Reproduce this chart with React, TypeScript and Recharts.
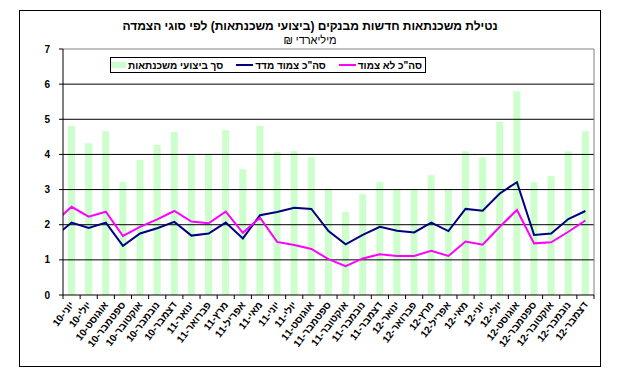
import React from "react";
import { ComposedChart, Bar, Line, XAxis, YAxis, ReferenceLine } from "recharts";

// first month (May-10) only feeds the lines' stub at the left edge
const months = [
  "מאי-10", "יוני-10", "יולי-10", "אוגוסט-10", "ספטמבר-10", "אוקטובר-10", "נובמבר-10", "דצמבר-10",
  "ינואר-11", "פברואר-11", "מרץ-11", "אפריל-11", "מאי-11", "יוני-11", "יולי-11", "אוגוסט-11",
  "ספטמבר-11", "אוקטובר-11", "נובמבר-11", "דצמבר-11",
  "ינואר-12", "פברואר-12", "מרץ-12", "אפריל-12", "מאי-12", "יוני-12", "יולי-12", "אוגוסט-12",
  "ספטמבר-12", "אוקטובר-12", "נובמבר-12", "דצמבר-12",
];

const totalVolume = [
  null, 4.81, 4.32, 4.66, 3.21, 3.84, 4.27, 4.64,
  3.98, 4.01, 4.69, 3.58, 4.81, 4.07, 4.1, 3.93, 3.0, 2.36, 2.87, 3.21,
  3.0, 2.99, 3.41, 3.0, 4.09, 3.92, 4.93, 5.8, 3.21, 3.38, 4.09, 4.66,
];

const indexLinked = [
  1.65, 2.06, 1.91, 2.06, 1.4, 1.75, 1.9, 2.08,
  1.69, 1.75, 2.06, 1.61, 2.27, 2.36, 2.48, 2.45, 1.82, 1.44, 1.71, 1.94,
  1.83, 1.78, 2.06, 1.82, 2.45, 2.4, 2.89, 3.21, 1.71, 1.75, 2.16, 2.39,
];

const unlinked = [
  2.06, 2.51, 2.23, 2.37, 1.68, 1.94, 2.15, 2.39,
  2.09, 2.04, 2.37, 1.77, 2.2, 1.51, 1.42, 1.31, 1.02, 0.82, 1.04, 1.16,
  1.11, 1.11, 1.26, 1.11, 1.52, 1.43, 1.94, 2.42, 1.47, 1.5, 1.8, 2.12,
];

const yTicks = [0, 1, 2, 3, 4, 5, 6, 7];
const gridValues = [1, 2, 3, 4, 5, 6];

const TITLE = "נטילת משכנתאות חדשות מבנקים (ביצועי משכנתאות) לפי סוגי הצמדה";
const SUBTITLE = "מיליארדי ₪";

const legendItems = [
  { name: 'סה"כ לא צמוד', color: "#FF00FF", kind: "line" },
  { name: 'סה"כ צמוד מדד', color: "#000080", kind: "line" },
  { name: "סך ביצועי משכנתאות", color: "#CCFFCC", kind: "bar" },
];

const FONT = '"Liberation Sans", Arial, sans-serif';

const data = months.map((m, i) => ({
  idx: i - 1,
  month: m,
  total: totalVolume[i],
  linked: indexLinked[i],
  unlinked: unlinked[i],
}));

const lastIdx = months.length - 2;
// tick marks sit between categories, labels sit on the category centres
const xTicks: number[] = [];
for (let k = 0; k <= lastIdx; k++) {
  xTicks.push(k - 0.5, k);
}
xTicks.push(lastIdx + 0.5);

function MonthTick(props: any) {
  const { x, y, payload } = props;
  const v = payload.value;
  if (!Number.isInteger(v)) {
    return <line x1={x} y1={y} x2={x} y2={y + 4} stroke="#000" />;
  }
  return (
    <text
      x={x + 3}
      y={y + 10}
      transform={`rotate(-52, ${x + 3}, ${y + 10})`}
      textAnchor="end"
      fontFamily={FONT}
      fontWeight="bold"
      fontSize={10}
      fill="#000"
    >
      {months[v + 1]}
    </text>
  );
}

export default function App() {
  return (
    <div style={{ position: "absolute", left: 0, top: 0, width: 618, height: 387, background: "#fff", fontFamily: FONT }}>
      <div style={{ position: "absolute", left: 19, top: 10, width: 580, height: 355, border: "1px solid #000" }} />
      <div dir="rtl" style={{ position: "absolute", left: 19, top: 19, width: 582, textAlign: "center", fontSize: 12, fontWeight: "bold", lineHeight: "14px" }}>
        {TITLE}
      </div>
      <div dir="rtl" style={{ position: "absolute", left: 19, top: 34, width: 582, textAlign: "center", fontSize: 11, lineHeight: "13px" }}>
        {SUBTITLE}
      </div>

      <div style={{ position: "absolute", left: 0, top: 0 }}>
        <ComposedChart width={618} height={387} data={data} margin={{ top: 49, right: 24, left: 0, bottom: 0 }}>
          <XAxis
            dataKey="idx"
            type="number"
            domain={[-0.5, lastIdx + 0.5]}
            allowDataOverflow
            ticks={xTicks}
            interval={0}
            tickLine={false}
            tickSize={0}
            tickMargin={0}
            axisLine={{ stroke: "#000" }}
            height={92}
            tick={MonthTick}
          />
          <YAxis
            type="number"
            domain={[0, 7]}
            ticks={yTicks}
            interval={0}
            width={63}
            tickSize={4}
            tickMargin={9}
            axisLine={{ stroke: "#000" }}
            tickLine={{ stroke: "#000" }}
            tick={{ fill: "#000", fontSize: 10, fontWeight: "bold", fontFamily: FONT }}
          />
          <Bar dataKey="total" fill="#CCFFCC" barSize={7} isAnimationActive={false} />
          {gridValues.map((g) => (
            <ReferenceLine key={g} y={g} stroke="#000" />
          ))}
          <ReferenceLine y={7} stroke="#808080" />
          <ReferenceLine x={lastIdx + 0.5} stroke="#808080" />
          <Line type="linear" dataKey="linked" stroke="#000080" strokeWidth={2} dot={false} isAnimationActive={false} />
          <Line type="linear" dataKey="unlinked" stroke="#FF00FF" strokeWidth={2} dot={false} isAnimationActive={false} />
        </ComposedChart>
      </div>

      {/* legend box */}
      <div
        dir="rtl"
        style={{
          position: "absolute", left: 110, top: 57, width: 316, height: 16, boxSizing: "border-box",
          border: "1px solid #000", background: "#fff", display: "flex", alignItems: "center",
          paddingRight: 3, gap: 13, fontSize: 10, fontWeight: "bold", whiteSpace: "nowrap",
        }}
      >
        {legendItems.map((it) => (
          <div key={it.name} style={{ display: "flex", alignItems: "center", gap: 2 }}>
            <span>{it.name}</span>
            {it.kind === "line" ? (
              <span style={{ display: "inline-block", width: 17, height: 2, background: it.color }} />
            ) : (
              <span style={{ display: "inline-block", width: 15, height: 6, background: it.color }} />
            )}
          </div>
        ))}
      </div>
    </div>
  );
}
